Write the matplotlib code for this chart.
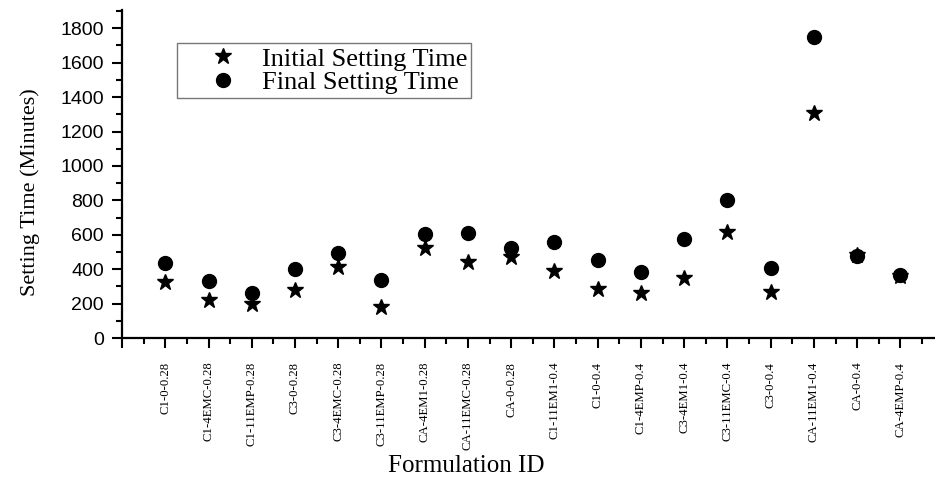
import matplotlib
matplotlib.use("Agg")
import matplotlib.pyplot as plt
from matplotlib.ticker import MultipleLocator

formulations = [
    "C1-0-0.28", "C1-4EMC-0.28", "C1-11EMP-0.28", "C3-0-0.28", "C3-4EMC-0.28",
    "C3-11EMP-0.28", "CA-4EM1-0.28", "CA-11EMC-0.28", "CA-0-0.28", "C1-11EM1-0.4",
    "C1-0-0.4", "C1-4EMP-0.4", "C3-4EM1-0.4", "C3-11EMC-0.4", "C3-0-0.4",
    "CA-11EM1-0.4", "CA-0-0.4", "CA-4EMP-0.4",
]
initial_time = [327, 221, 196, 279, 414, 182, 521, 440, 472, 391,
                283, 260, 350, 617, 269, 1305, 482, 360]
final_time = [435, 331, 260, 400, 495, 337, 602, 611, 521, 556,
              453, 385, 575, 801, 410, 1750, 475, 366]

serif = "Liberation Serif"
sans = "Liberation Sans"

fig = plt.figure(figsize=(9.35, 4.83), dpi=100)
ax = fig.add_axes([0.1305, 0.300, 0.8695, 0.679])

x = list(range(1, len(formulations) + 1))
ax.plot(x, initial_time, linestyle="none", marker="*", color="black",
        markersize=12, label="Initial Setting Time", zorder=3)
ax.plot(x, final_time, linestyle="none", marker="o", color="black",
        markersize=10, label="Final Setting Time", zorder=3)

ax.set_xlim(0, 18.8)
ax.set_ylim(0, 1905)

# only left and bottom axis lines, drawn thick
for side in ["top", "right"]:
    ax.spines[side].set_visible(False)
for side in ["left", "bottom"]:
    ax.spines[side].set_linewidth(1.6)

ax.yaxis.set_major_locator(MultipleLocator(200))
ax.yaxis.set_minor_locator(MultipleLocator(100))
ax.set_xticks(range(0, 19))
ax.set_xticklabels([""] + formulations, rotation=90, fontfamily=serif, fontsize=9.2)
ax.xaxis.set_minor_locator(MultipleLocator(0.5))

ax.tick_params(axis="y", which="major", direction="out", length=7, width=1.5,
               pad=6, labelsize=14)
ax.tick_params(axis="y", which="minor", direction="out", length=4, width=1.5)
ax.tick_params(axis="x", which="major", direction="out", length=7, width=1.5, pad=10)
ax.tick_params(axis="x", which="minor", direction="out", length=4, width=1.5)
for lbl in ax.get_yticklabels():
    lbl.set_fontfamily(sans)

ax.set_ylabel("Setting Time (Minutes)", fontfamily=serif, fontsize=16)
ax.yaxis.set_label_coords(-0.101, 0.445)
ax.set_xlabel("Formulation ID", fontfamily=serif, fontsize=18)
ax.xaxis.set_label_coords(0.424, -0.39)
ax.xaxis.label.set_va("center")

leg = ax.legend(loc="upper left", bbox_to_anchor=(0.0677, 0.899),
                prop={"family": serif, "size": 19}, frameon=True, fancybox=False,
                borderpad=0.15, handletextpad=-0.15, labelspacing=0.0,
                borderaxespad=0, handlelength=3.2)
leg.get_frame().set_edgecolor("#555555")
leg.get_frame().set_linewidth(1.0)

fig.savefig("out.png", dpi=100)
